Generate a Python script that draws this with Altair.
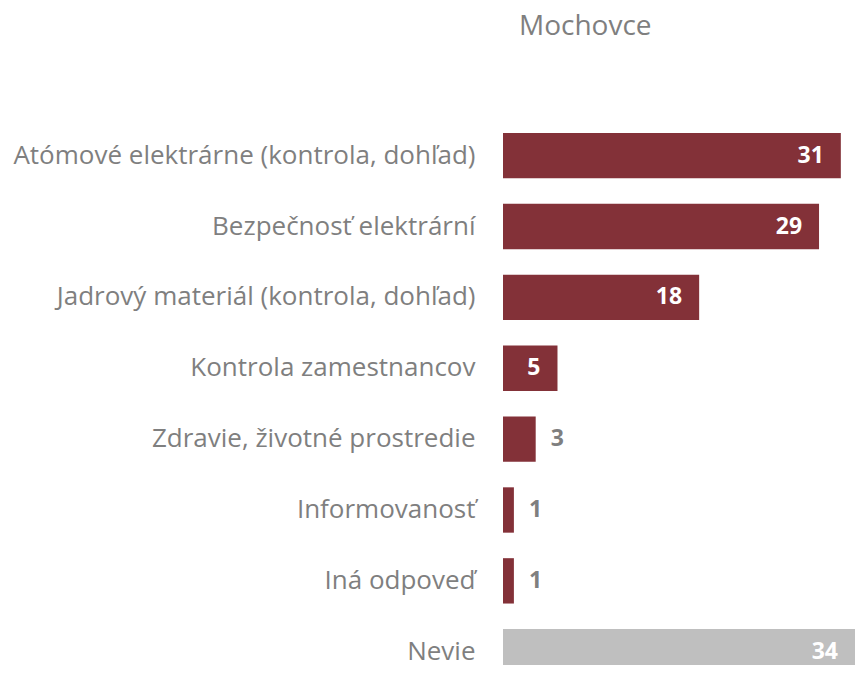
import altair as alt
import pandas as pd

categories = [
    "Atómové elektrárne (kontrola, dohľad)",
    "Bezpečnosť elektrární",
    "Jadrový materiál (kontrola, dohľad)",
    "Kontrola zamestnancov",
    "Zdravie, životné prostredie",
    "Informovanosť",
    "Iná odpoveď",
    "Nevie",
]
values = [31, 29, 18, 5, 3, 1, 1, 34]
groups = ["answer"] * 7 + ["dontknow"]

XMAX = 32.3

df = pd.DataFrame({"cat": categories, "val": values, "group": groups})

base = alt.Chart(df).encode(
    y=alt.Y(
        "cat:N",
        sort=categories,
        scale=alt.Scale(range=[0, 541.4], paddingInner=0.36, paddingOuter=0),
        axis=alt.Axis(
            title=None, domain=False, ticks=False, labelPadding=28,
            labelFontSize=26, labelFont="Open Sans", labelColor="#7f7f7f",
            labelLimit=0,
        ),
    )
)

xscale = alt.Scale(domain=[0, XMAX])

bars = base.mark_bar(clip=True).encode(
    x=alt.X("val:Q", scale=xscale, axis=None),
    color=alt.Color(
        "group:N",
        scale=alt.Scale(domain=["answer", "dontknow"], range=["#833138", "#bfbfbf"]),
        legend=None,
    ),
)

inside = base.transform_filter("datum.val >= 5").transform_calculate(
    pos=f"min(datum.val, {XMAX})"
).mark_text(
    align="right", dx=-17, font="Open Sans", fontWeight="bold", fontSize=23, color="white"
).encode(x=alt.X("pos:Q", scale=xscale, axis=None), text="val:Q")

outside = base.transform_filter("datum.val < 5").mark_text(
    align="left", dx=15, font="Open Sans", fontWeight="bold", fontSize=23, color="#7f7f7f"
).encode(x=alt.X("val:Q", scale=xscale, axis=None), text="val:Q")

chart = alt.layer(bars, inside, outside).properties(
    width=352,
    height=532,
    padding={"left": 495, "top": 125, "right": 0, "bottom": 0},
    autosize=alt.AutoSizeParams(type="none"),
    title=alt.TitleParams(
        "Mochovce", anchor="start", frame="group", dx=16, offset=92,
        fontSize=28, font="Open Sans", fontWeight="normal", color="#7f7f7f",
    ),
).configure_view(stroke=None)

chart.save("out.html", embed_options={"renderer": "svg", "actions": False})
